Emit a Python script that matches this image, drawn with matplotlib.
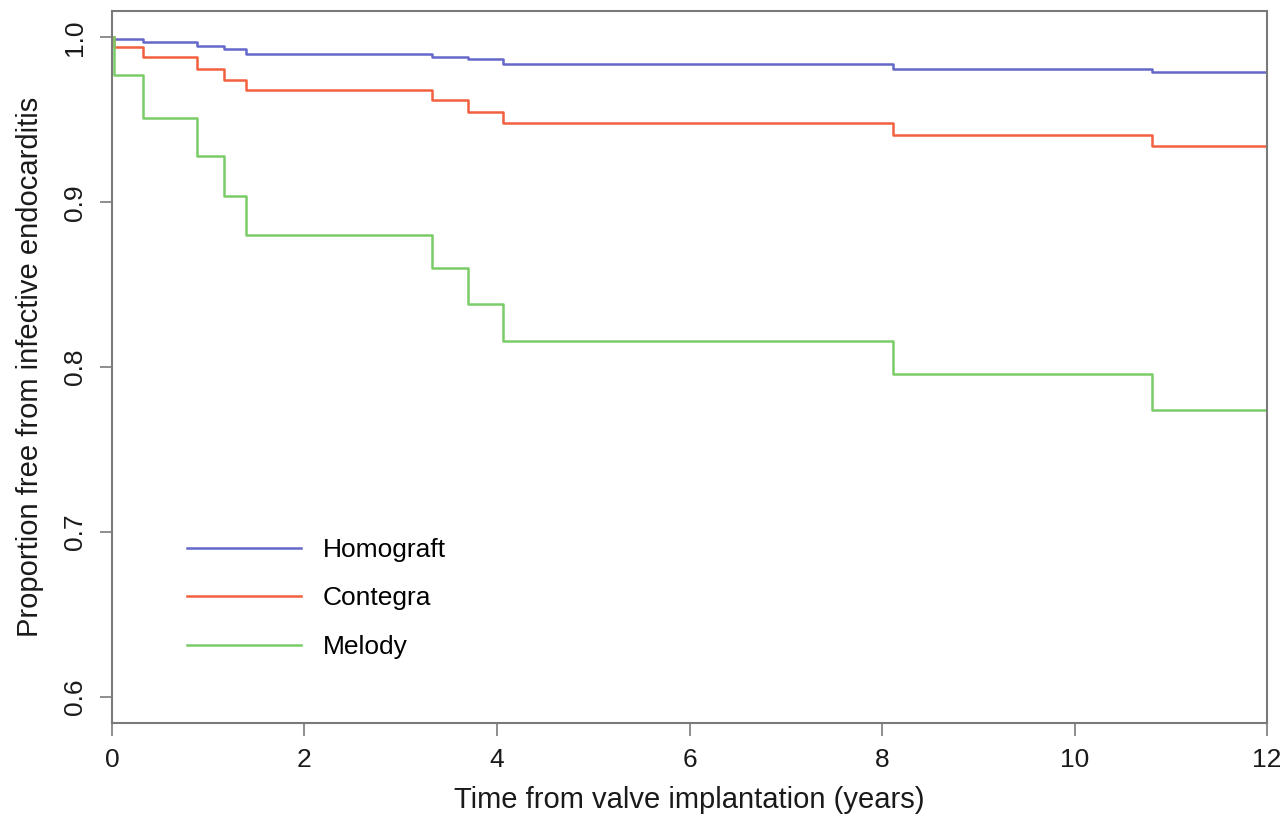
import matplotlib.pyplot as plt
import numpy as np

# curvas de supervivencia (escalones en los mismos tiempos para los tres grupos)
times = [0.0, 0.02, 0.32, 0.88, 1.16, 1.39, 3.32, 3.70, 4.06, 8.11, 10.80, 12.0]
homograft = [1.0, 0.999, 0.997, 0.995, 0.993, 0.990, 0.988, 0.987, 0.984, 0.981, 0.979, 0.979]
contegra = [1.0, 0.994, 0.988, 0.981, 0.974, 0.968, 0.962, 0.955, 0.948, 0.941, 0.934, 0.934]
melody = [1.0, 0.977, 0.951, 0.928, 0.904, 0.880, 0.860, 0.838, 0.816, 0.796, 0.774, 0.774]

labels = ["Homograft", "Contegra", "Melody"]
colors = ["#6468c8", "#f2603f", "#79cc66"]
xticks = [0, 2, 4, 6, 8, 10, 12]
yticks = [0.6, 0.7, 0.8, 0.9, 1.0]

plt.rcParams['font.family'] = ['Liberation Sans', 'DejaVu Sans']

fig = plt.figure(figsize=(12.87, 8.16), dpi=100)
ax = fig.add_axes([0.087, 0.114, 0.8975, 0.8725])

for serie, lab, col in zip([homograft, contegra, melody], labels, colors):
    ax.step(times, serie, where='post', color=col, lw=1.8, label=lab)

ax.set_xlim(0, 12)
ax.set_ylim(0.584, 1.016)
ax.set_xticks(xticks)
ax.set_yticks(yticks)
ax.set_xticklabels([str(t) for t in xticks], fontsize=19)
ax.set_yticklabels(["%.1f" % t for t in yticks], fontsize=19, rotation=90, va='center')

for s in ax.spines.values():
    s.set_color('#7a7a7a')
    s.set_linewidth(1.5)
ax.tick_params(colors='#7a7a7a', labelcolor='#1a1a1a', length=9, width=1.2, pad=9)

ax.set_xlabel("Time from valve implantation (years)", fontsize=21, color='#1a1a1a', labelpad=10)
ax.set_ylabel("Proportion free from infective endocarditis", fontsize=21, color='#1a1a1a', labelpad=14)

ax.legend(loc='upper left', bbox_to_anchor=(0.065, 0.26), frameon=False, fontsize=19,
          handlelength=4.3, handletextpad=0.85, labelspacing=0.93, borderpad=0, borderaxespad=0)

fig.savefig("out.png", dpi=100)
